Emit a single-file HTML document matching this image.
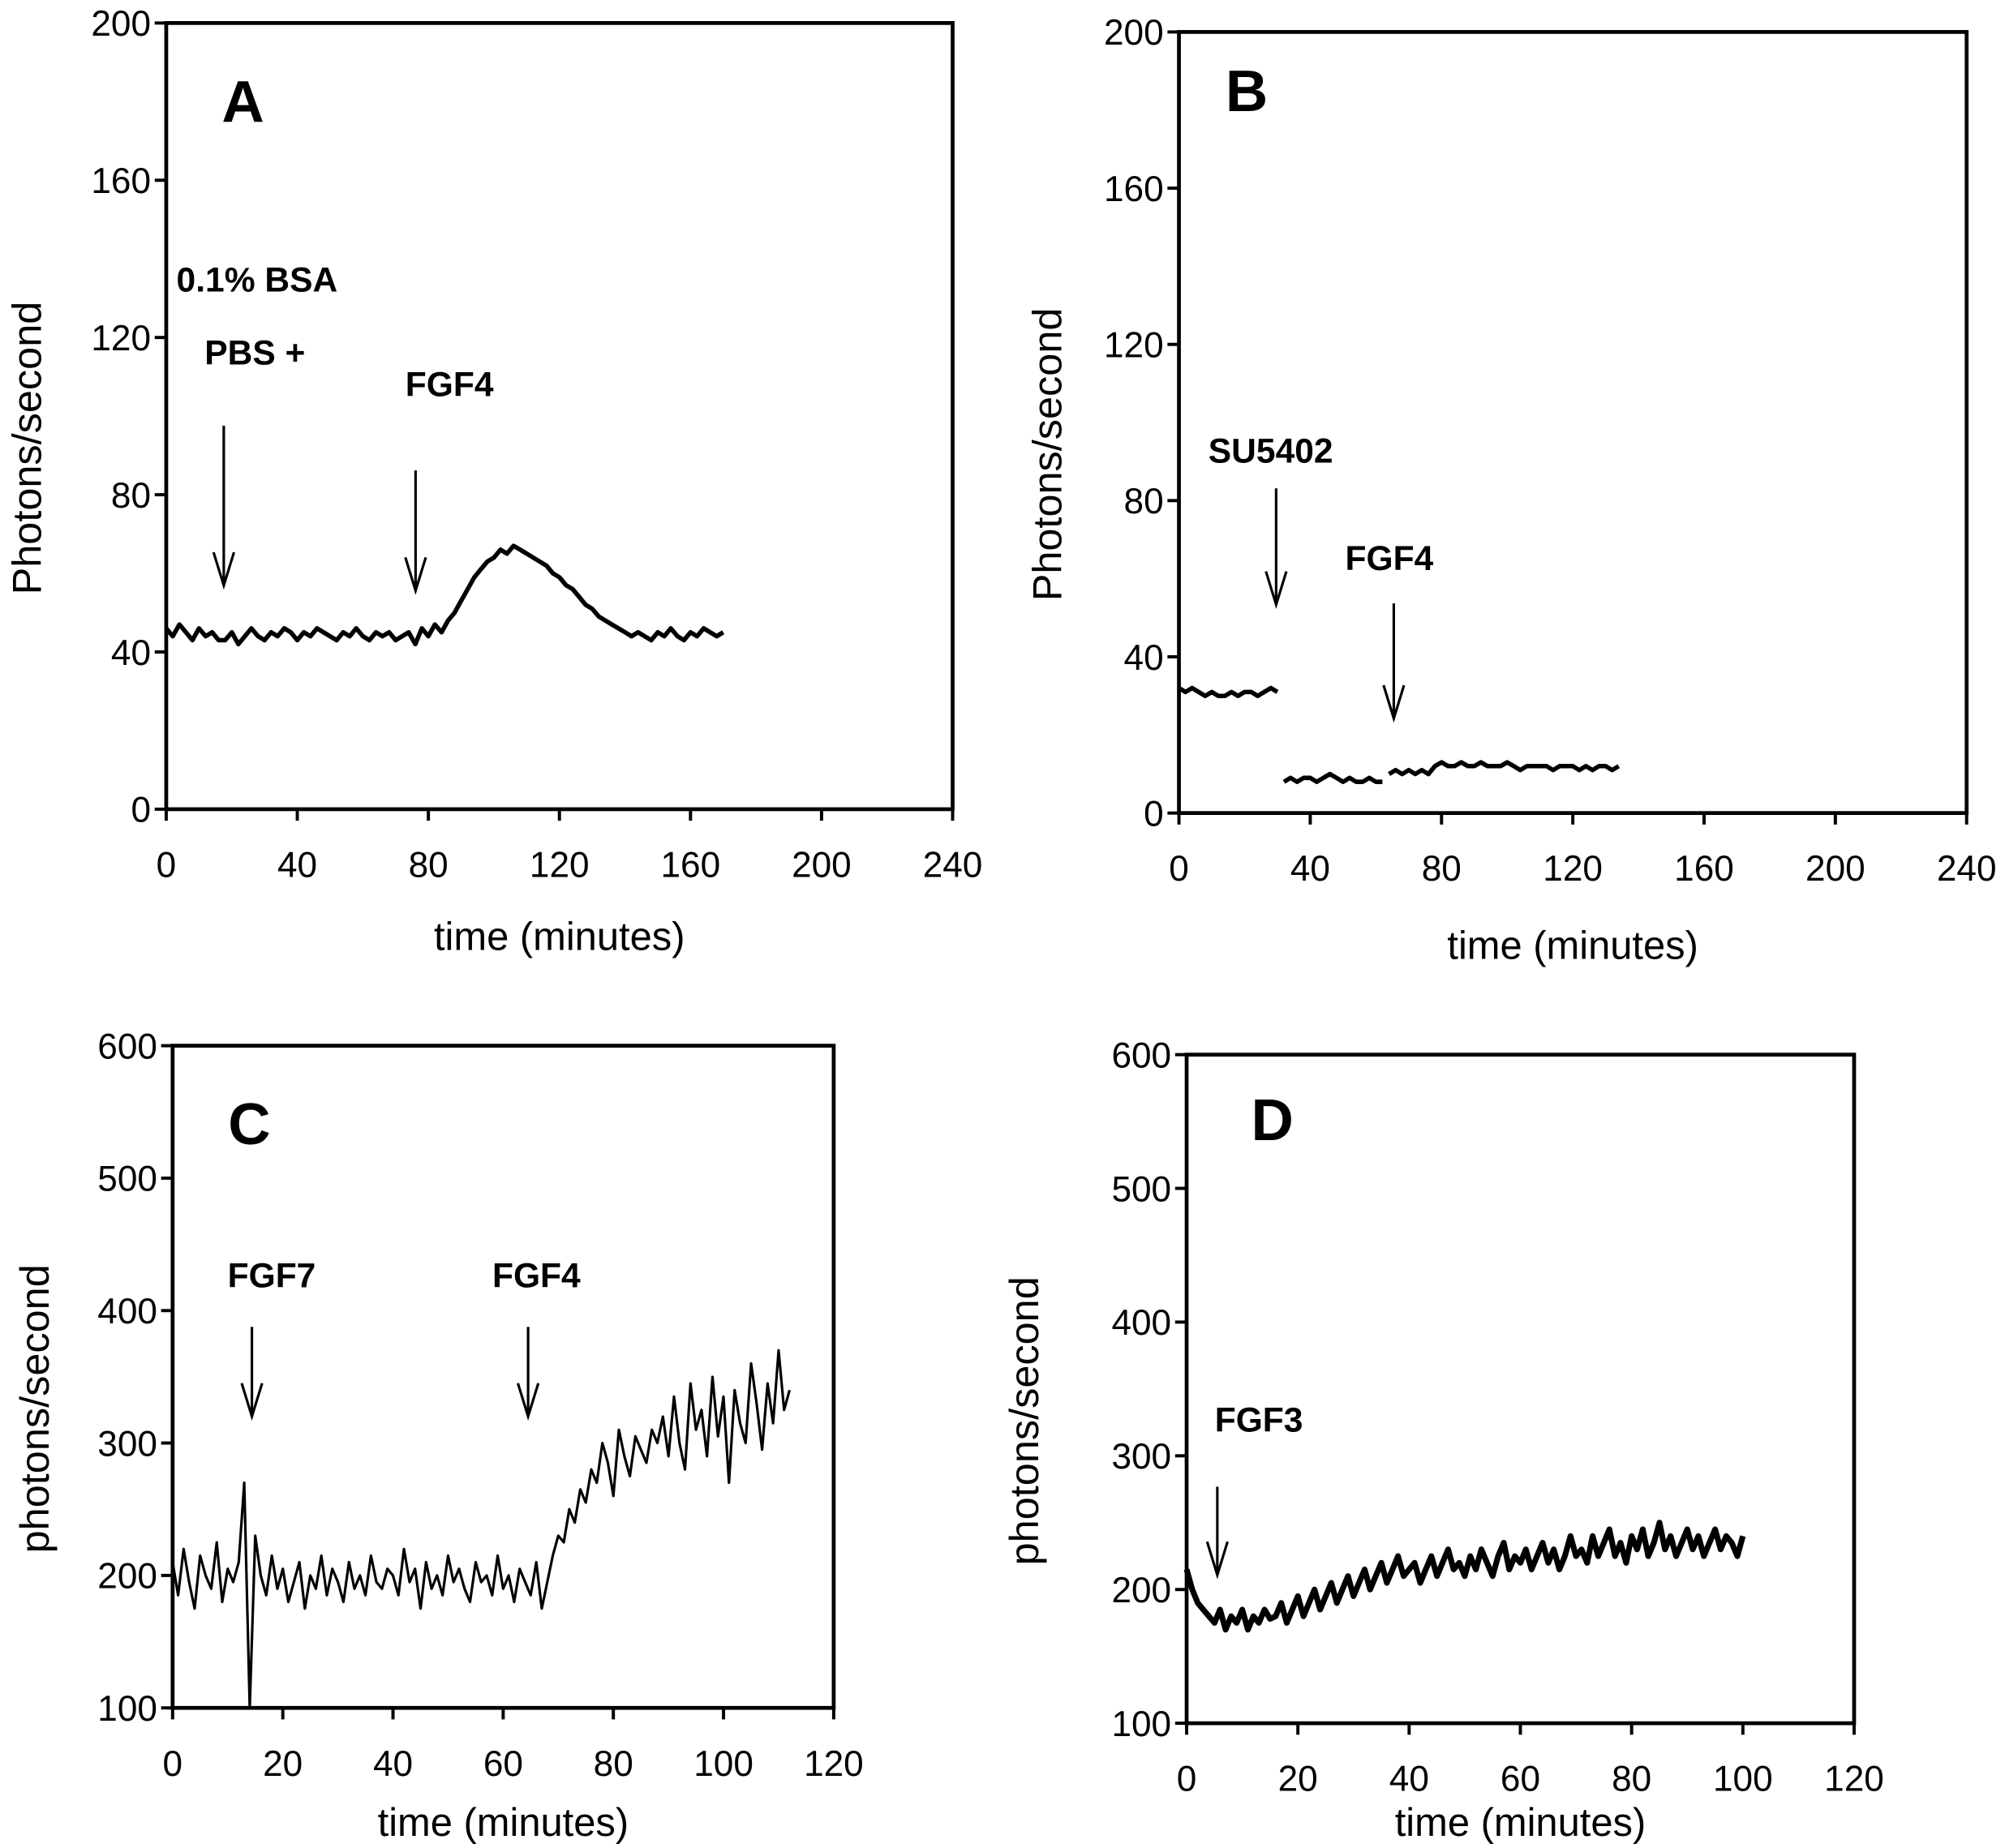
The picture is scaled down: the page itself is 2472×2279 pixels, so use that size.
<!DOCTYPE html>
<html><head><meta charset="utf-8"><style>
html,body{margin:0;padding:0;background:#fff}
svg{display:block}
text{font-family:"Liberation Sans",Arial,sans-serif;fill:#000}
</style></head><body>
<svg id="fig" width="2472" height="2279" viewBox="0 0 1568 1445.6" preserveAspectRatio="none" xmlns="http://www.w3.org/2000/svg"></svg>
<script>
// Panel A data (t = 0..170 step 2)
const aStart = 0, aStep = 2;
const aValues = [46,44,47,45,43,46,44,45,43,
43,45,42,44,46,44,43,45,44,46,45,43,45,44,46,45,44,43,45,44,46,44,43,45,44,45,43,44,45,42,
46,44,47,45,48,50,
53,56,59,61,63,64,66,65,67,66,65,64,63,62,60,59,
57,56,54,52,51,49,48,47,46,45,44,45,44,43,45,44,46,44,43,45,44,46,45,44,45];
// Panel B segments
const b1Start = 0, b1Values = [32,31,32,31,30,31,30,30,31,30,31,31,30,31,32,31];
const b2Start = 32, b2Values = [8,9,8,9,9,8,9,10,9,8,9,8,8,9,8,8];
const b3Start = 64, b3Values = [10,11,10,11,10,11,10,12,13,12,12,13,12,12,13,12,12,12,13,12,11,12,12,12,12,11,12,12,12,11,12,11,12,12,11,12];
const bStep = 2;
// Panel C (t = 0..112 step 1)
const cStart = 0, cStep = 1;
const cValues = [210,185,220,195,175,215,200,190,225,180,205,195,210,
270,100,230,
200,185,215,190,205,180,195,210,175,200,190,215,185,205,195,180,210,190,200,185,215,195,190,205,200,
185,220,195,205,175,210,190,200,185,215,195,205,190,180,210,195,200,185,215,190,200,180,205,195,185,210,175,195,
215,230,225,250,240,265,255,280,270,300,285,260,310,290,275,305,295,
285,310,300,320,290,335,300,280,345,310,325,290,350,305,335,270,340,315,300,360,330,295,345,315,370,325,340];
// Panel D (t = 0..100 step 1)
const dStart = 0, dStep = 1;
const dValues = [215,200,190,185,180,175,185,170,180,175,185,170,180,175,185,178,
180,190,175,185,195,180,190,200,185,195,205,190,200,210,195,205,215,200,210,220,205,215,225,210,215,
220,205,215,225,210,220,230,215,220,210,225,215,230,220,210,225,235,215,225,220,230,215,225,235,220,230,215,225,240,225,
230,220,240,225,235,245,225,235,220,240,230,245,225,235,250,230,240,225,235,245,230,240,225,235,245,230,240,235,225,240];
const abXTicks = [0,40,80,120,160,200,240];
const abYTicks = [0,40,80,120,160,200];
const cdXTicks = [0,20,40,60,80,100,120];
const cdYTicks = [100,200,300,400,500,600];

const NS = "http://www.w3.org/2000/svg";
const svg = document.getElementById('fig');
function el(tag, attrs, parent){const e=document.createElementNS(NS,tag);for(const k in attrs)e.setAttribute(k,attrs[k]);(parent||svg).appendChild(e);return e;}

function panel(cfg){
  const g = el('g',{});
  
  
  const X = v => cfg.x0 + (v - cfg.xmin)/(cfg.xmax-cfg.xmin)*(cfg.x1-cfg.x0);
  const Y = v => cfg.y1 - (v - cfg.ymin)/(cfg.ymax-cfg.ymin)*(cfg.y1-cfg.y0);
  const box = el('rect',{x:cfg.x0,y:cfg.y0,width:cfg.x1-cfg.x0,height:cfg.y1-cfg.y0,fill:'none',stroke:'#000','stroke-width':3},g);
  
  
  cfg.yt.forEach(v=>{
    el('line',{x1:cfg.x0-9,x2:cfg.x0,y1:Y(v),y2:Y(v),stroke:'#000','stroke-width':2.5},g);
    const t = el('text',{x:cfg.x0-12,y:Y(v)+10,'font-size':28,'text-anchor':'end'},g);
    t.textContent = v;
    
    
  });
  cfg.xt.forEach(v=>{
    el('line',{x1:X(v),x2:X(v),y1:cfg.y1,y2:cfg.y1+9,stroke:'#000','stroke-width':2.5},g);
    const t = el('text',{x:X(v),y:cfg.y1+53,'font-size':28,'text-anchor':'middle'},g);
    t.textContent = v;
    
    
  });
  const xt = el('text',{x:(cfg.x0+cfg.x1)/2,y:cfg.y1+cfg.xto,'font-size':31,'text-anchor':'middle'},g);
  xt.textContent = 'time (minutes)';
  
  
  const yt = el('text',{x:0,y:0,'font-size':32,'text-anchor':'middle',transform:`translate(${cfg.ylx},${(cfg.y0+cfg.y1)/2+25}) rotate(-90)`},g);
  yt.textContent = cfg.ylabel;
  
  
  const L = el('text',{x:cfg.letter[0],y:cfg.letter[1],'font-size':46,'font-weight':'bold','text-anchor':'middle'},g);
  L.textContent = cfg.id;
  
  
  cfg.series.forEach(s=>{
    const pts = s.values.map((v,i)=>X(s.start+i*s.step).toFixed(1)+','+Y(v).toFixed(1)).join(' ');
    const p = el('polyline',{points:pts,fill:'none',stroke:'#000','stroke-width':s.w||3.5,'stroke-linejoin':'round'},g);
    
    
  });
  cfg.labels.forEach(l=>{
    const t = el('text',{x:l[1],y:l[2],'font-size':27,'font-weight':'bold'},g);
    t.textContent = l[0];
    
    
  });
  cfg.arrows.forEach(a=>{
    const [x,ya,yb]=a;
    const ar = el('path',{d:`M${x},${ya} L${x},${yb} M${x-8},${yb-26} L${x},${yb} L${x+8},${yb-26}`,fill:'none',stroke:'#000','stroke-width':2},g);
    
    
  });
}

panel({id:'A',x0:130,x1:745,y0:18,y1:633,xmin:0,xmax:240,ymin:0,ymax:200,xt:abXTicks,yt:abYTicks,ylx:32,xto:110,ylabel:'Photons/second',letter:[190,95],
  series:[{start:aStart,step:aStep,values:aValues}],
  labels:[['0.1% BSA',138,228],['PBS +',160,285],['FGF4',317,310]],
  arrows:[[175,333,458],[325,368,462]]});
panel({id:'B',x0:922,x1:1538,y0:25,y1:636,xmin:0,xmax:240,ymin:0,ymax:200,xt:abXTicks,yt:abYTicks,ylx:830,xto:114,ylabel:'Photons/second',letter:[975,87],
  series:[{start:b1Start,step:bStep,values:b1Values},{start:b2Start,step:bStep,values:b2Values},{start:b3Start,step:bStep,values:b3Values}],
  labels:[['SU5402',945,362],['FGF4',1052,446]],
  arrows:[[998,382,473],[1090,472,562]]});
panel({id:'C',x0:135,x1:652,y0:818,y1:1336,xmin:0,xmax:120,ymin:100,ymax:600,xt:cdXTicks,yt:cdYTicks,ylx:38,xto:100,ylabel:'photons/second',letter:[195,895],
  series:[{start:cStart,step:cStep,values:cValues,w:2}],
  labels:[['FGF7',178,1007],['FGF4',385,1007]],
  arrows:[[197,1038,1108],[413,1038,1108]]});
panel({id:'D',x0:928,x1:1450,y0:825,y1:1348,xmin:0,xmax:120,ymin:100,ymax:600,xt:cdXTicks,yt:cdYTicks,ylx:812,xto:88,ylabel:'photons/second',letter:[995,892],
  series:[{start:dStart,step:dStep,values:dValues,w:4.5}],
  labels:[['FGF3',950,1120]],
  arrows:[[952,1163,1232]]});
</script>
</body></html>
